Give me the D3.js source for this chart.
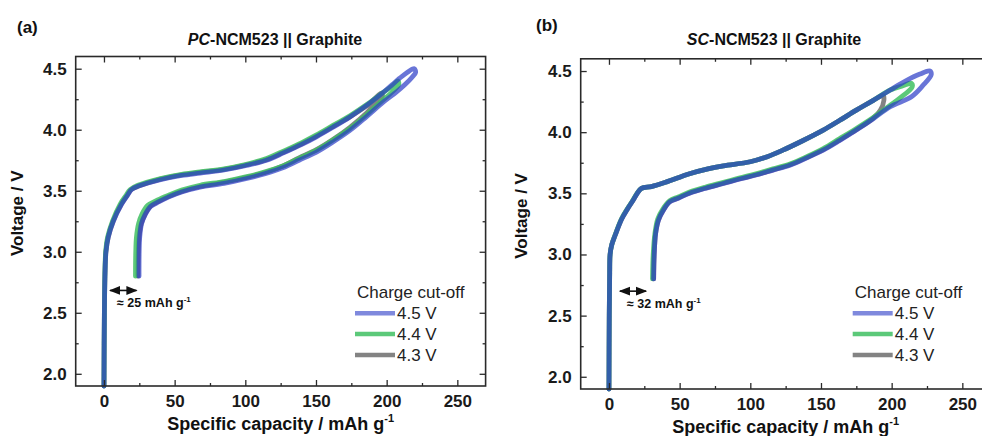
<!DOCTYPE html>
<html>
<head>
<meta charset="utf-8">
<script src="https://cdn.jsdelivr.net/npm/d3@7"></script>
<style>
  body { margin: 0; background: #fff; }
  svg { display: block; font-family: "Liberation Sans", Arial, sans-serif; }
  .axis path, .axis line { stroke: #2a2a2a; }
  .axis text { font-size: 17px; font-weight: bold; fill: #1a1a1a; font-family: "Liberation Sans", Arial, sans-serif; }
</style>
</head>
<body>
<svg id="chart" width="982" height="436"></svg>
<script>
// ---- data: [capacity mAh/g, voltage V] ----
var cutoffs = ["4.5 V", "4.4 V", "4.3 V"];
var colors = ["#2a3bc6", "#3fbf62", "#767676"];
var xTicks = [0, 50, 100, 150, 200, 250];
var yTicks = [2.0, 2.5, 3.0, 3.5, 4.0, 4.5];

// PC-NCM523
var pcCharge45 = [[0,1.9],[0.3,2.5],[0.8,2.85],[1.4,3.0],[3,3.12],[6.6,3.25],[12.5,3.39],[16.5,3.46],[19.6,3.51],[25,3.54],[40,3.59],[55,3.625],[68,3.645],[85,3.67],[100,3.705],[115,3.75],[127,3.81],[140,3.88],[150,3.94],[162,4.02],[174,4.105],[187,4.21],[197.5,4.305],[204,4.37],[209,4.42],[214,4.465],[219.5,4.5]];
var pcDischarge45 = [[219.5,4.5],[220.5,4.47],[218,4.43],[213,4.37],[207,4.31],[198,4.23],[186,4.11],[174,3.995],[162,3.9],[150,3.815],[138,3.75],[127,3.69],[114,3.64],[101,3.6],[85,3.56],[68,3.53],[55,3.49],[46,3.45],[39,3.41],[33,3.37],[29,3.3],[26.6,3.23],[25.3,3.12],[24.9,3.0],[24.8,2.8]];
var pcCharge44 = [[0,1.9],[0.3,2.5],[0.7,2.85],[1.2,3.0],[2.6,3.12],[6,3.25],[11.5,3.39],[15.5,3.46],[18.6,3.51],[24,3.545],[40,3.6],[55,3.635],[68,3.655],[85,3.68],[100,3.715],[115,3.765],[127,3.825],[140,3.895],[150,3.955],[162,4.035],[174,4.115],[187,4.215],[197.5,4.305],[204,4.36],[208,4.4]];
var pcDischarge44 = [[208,4.4],[208.5,4.37],[203,4.3],[197,4.24],[186,4.125],[174,4.01],[162,3.915],[150,3.83],[138,3.765],[127,3.705],[114,3.655],[101,3.615],[85,3.575],[68,3.545],[55,3.505],[46,3.465],[38,3.425],[31,3.38],[27,3.31],[24.5,3.23],[23,3.12],[22.5,3.0],[22.3,2.8]];
var pcCharge43 = [[0,1.9],[0.3,2.5],[0.8,2.85],[1.4,3.0],[3,3.12],[6.5,3.25],[12.3,3.39],[16.3,3.46],[19.4,3.51],[25,3.54],[40,3.595],[55,3.63],[68,3.65],[85,3.675],[100,3.71],[115,3.755],[127,3.815],[140,3.885],[150,3.945],[162,4.025],[174,4.105],[187,4.205],[196.5,4.3]];
var pcDischarge43 = [[196.5,4.3],[196.8,4.27],[191,4.2],[186,4.14],[174,4.02],[162,3.92],[150,3.835],[138,3.77],[127,3.705],[114,3.65],[101,3.61],[85,3.57],[68,3.535],[55,3.495],[46,3.455],[39,3.415],[33,3.375],[29,3.305],[26.4,3.23],[24.8,3.12],[24.3,3.0],[24,2.8]];

// SC-NCM523
var scCharge45 = [[0,1.9],[0.2,2.5],[0.5,2.85],[0.8,3.0],[2,3.08],[4.3,3.155],[9,3.29],[13,3.37],[17.2,3.445],[20,3.5],[23,3.54],[30,3.555],[40,3.59],[57,3.66],[70,3.7],[81,3.725],[100,3.758],[112,3.8],[123,3.853],[137,3.93],[151.6,4.017],[163,4.095],[175,4.18],[187,4.26],[199,4.345],[210,4.42],[220,4.475],[227,4.5]];
var scDischarge45 = [[227,4.5],[228,4.47],[222,4.38],[214,4.29],[199,4.208],[187,4.11],[175,4.017],[163,3.93],[151.6,3.853],[140,3.79],[128,3.73],[116,3.69],[104,3.65],[92,3.615],[81,3.58],[68,3.54],[57,3.5],[49,3.46],[43,3.43],[38.4,3.36],[35,3.28],[33,3.17],[32,3.0],[31.6,2.8]];
var scCharge44 = [[0,1.9],[0.2,2.5],[0.5,2.85],[0.8,3.0],[2,3.08],[4.2,3.155],[8.8,3.29],[12.8,3.37],[17,3.445],[19.8,3.5],[23,3.54],[30,3.555],[40,3.59],[57,3.66],[70,3.7],[81,3.725],[100,3.758],[112,3.8],[123,3.853],[137,3.93],[151.6,4.017],[163,4.095],[175,4.18],[187,4.26],[199,4.345],[208,4.38],[214,4.4]];
var scDischarge44 = [[214,4.4],[214.5,4.37],[206,4.28],[199,4.22],[187,4.12],[175,4.03],[163,3.945],[151.6,3.865],[140,3.8],[128,3.74],[116,3.7],[104,3.66],[92,3.625],[81,3.59],[68,3.55],[57,3.51],[49,3.47],[43,3.44],[38,3.37],[34.5,3.29],[32.5,3.17],[31.3,3.0],[30.8,2.8]];
var scCharge43 = [[0,1.9],[0.2,2.5],[0.5,2.85],[0.8,3.0],[2,3.08],[4.3,3.155],[9,3.29],[13,3.37],[17.2,3.445],[20,3.5],[23,3.54],[30,3.555],[40,3.59],[57,3.66],[70,3.7],[81,3.725],[100,3.758],[112,3.8],[123,3.853],[137,3.93],[151.6,4.017],[163,4.095],[175,4.18],[187,4.26],[194,4.3]];
var scDischarge43 = [[194,4.3],[194.5,4.26],[192,4.18],[187,4.115],[175,4.02],[163,3.935],[151.6,3.857],[140,3.793],[128,3.733],[116,3.692],[104,3.652],[92,3.617],[81,3.582],[68,3.542],[57,3.502],[49,3.462],[43,3.432],[38.4,3.362],[35,3.282],[33,3.172],[32,3.0],[31.6,2.8]];

// irreversible-capacity annotations
var pcGap = { from: 4.3, to: 23, v: 2.683, label: "25" };
var scGap = { from: 7.8, to: 26.2, v: 2.70, label: "32" };

var panels = [
  { tag: "(a)", ital: "PC", left: 75.7, right: 485.6, top: 56.5, bottom: 386,
    tagX: 17, tagY: 33, titleX: 275, ylabX: 23, xlabY: 430, legX: 355,
    series: [[pcCharge45, pcDischarge45], [pcCharge44, pcDischarge44], [pcCharge43, pcDischarge43]], gap: pcGap },
  { tag: "(b)", ital: "SC", left: 580.7, right: 990.6, top: 58.8, bottom: 389,
    tagX: 536, tagY: 31, titleX: 774, ylabX: 527, xlabY: 433, legX: 852.7,
    series: [[scCharge45, scDischarge45], [scCharge44, scDischarge44], [scCharge43, scDischarge43]], gap: scGap }
];

var svg = d3.select("#chart");
var defs = svg.append("defs");
defs.append("marker").attr("id", "ah").attr("viewBox", "0 0 10 10").attr("refX", 9).attr("refY", 5)
  .attr("markerWidth", 7).attr("markerHeight", 7).attr("orient", "auto-start-reverse")
  .append("path").attr("d", "M0,1 L10,5 L0,9 Z").attr("fill", "#111");

var opac = [0.7, 0.85, 0.9];

panels.forEach(function (p) {
  var x = d3.scaleLinear().domain([-20, 270]).range([p.left, p.right]);
  var y = d3.scaleLinear().domain([1.9, 4.6]).range([p.bottom, p.top]);
  var g = svg.append("g");

  // curves: grey first, then green, blue on top
  var line = d3.line().x(function (d) { return x(d[0]); }).y(function (d) { return y(d[1]); })
    .curve(d3.curveCatmullRom.alpha(0.5));
  [2, 1, 0].forEach(function (i) {
    g.append("path").attr("d", line(p.series[i][0].concat(p.series[i][1].slice(1))))
      .attr("fill", "none").attr("stroke", colors[i]).attr("stroke-width", 4.8)
      .attr("stroke-linejoin", "round").attr("stroke-linecap", "round")
      .attr("stroke-opacity", opac[i]);
  });

  // frame and ticks (inward)
  g.append("rect").attr("x", p.left).attr("y", p.top).attr("width", p.right - p.left)
    .attr("height", p.bottom - p.top).attr("fill", "none").attr("stroke", "#2a2a2a").attr("stroke-width", 1.6);

  var xMinor = [-25, 25, 75, 125, 175, 225, 275].filter(function (v) { return v > -20 && v < 270; });
  var yMinor = [2.25, 2.75, 3.25, 3.75, 4.25];
  function ax(gen, tf) {
    return g.append("g").attr("class", "axis").attr("transform", tf).call(gen)
      .call(function (s) { s.select(".domain").remove(); });
  }
  ax(d3.axisBottom(x).tickValues(xTicks).tickSize(0).tickPadding(9).tickFormat(d3.format("d")), "translate(0," + p.bottom + ")");
  ax(d3.axisLeft(y).tickValues(yTicks).tickSize(0).tickPadding(9).tickFormat(d3.format(".1f")), "translate(" + p.left + ",0)");
  ax(d3.axisBottom(x).tickValues(xTicks).tickSize(-6).tickFormat(""), "translate(0," + p.bottom + ")");
  ax(d3.axisBottom(x).tickValues(xMinor).tickSize(-3).tickFormat(""), "translate(0," + p.bottom + ")");
  ax(d3.axisTop(x).tickValues(xTicks).tickSize(-6).tickFormat(""), "translate(0," + p.top + ")");
  ax(d3.axisTop(x).tickValues(xMinor).tickSize(-3).tickFormat(""), "translate(0," + p.top + ")");
  ax(d3.axisLeft(y).tickValues(yTicks).tickSize(-6).tickFormat(""), "translate(" + p.left + ",0)");
  ax(d3.axisLeft(y).tickValues(yMinor).tickSize(-3).tickFormat(""), "translate(" + p.left + ",0)");
  ax(d3.axisRight(y).tickValues(yTicks).tickSize(-6).tickFormat(""), "translate(" + p.right + ",0)");
  ax(d3.axisRight(y).tickValues(yMinor).tickSize(-3).tickFormat(""), "translate(" + p.right + ",0)");
  g.selectAll(".axis line").attr("stroke-width", 1.3);

  // labels
  svg.append("text").attr("x", p.tagX).attr("y", p.tagY).attr("font-size", 17).attr("font-weight", "bold")
    .attr("fill", "#111").text(p.tag);
  var t = svg.append("text").attr("x", p.titleX).attr("y", 45).attr("text-anchor", "middle")
    .attr("font-size", 16).attr("font-weight", "bold").attr("fill", "#111");
  t.append("tspan").attr("font-style", "italic").text(p.ital);
  t.append("tspan").text("-NCM523 || Graphite");

  svg.append("text").attr("transform", "translate(" + p.ylabX + "," + ((p.top + p.bottom) / 2 - 8) + ") rotate(-90)")
    .attr("text-anchor", "middle").attr("font-size", 17).attr("font-weight", "bold").attr("fill", "#111")
    .text("Voltage / V");
  var xl = svg.append("text").attr("x", (p.left + p.right) / 2).attr("y", p.xlabY).attr("text-anchor", "middle")
    .attr("font-size", 18).attr("font-weight", "bold").attr("fill", "#111");
  xl.append("tspan").text("Specific capacity / mAh g");
  xl.append("tspan").attr("font-size", 11).attr("dy", -8).text("-1");

  // annotation arrow
  g.append("line").attr("x1", x(p.gap.from)).attr("x2", x(p.gap.to)).attr("y1", y(p.gap.v)).attr("y2", y(p.gap.v))
    .attr("stroke", "#111").attr("stroke-width", 1.6)
    .attr("marker-start", "url(#ah)").attr("marker-end", "url(#ah)");
  var at = g.append("text").attr("x", x(p.gap.from) + 7).attr("y", y(p.gap.v) + 17)
    .attr("font-size", 12.5).attr("font-weight", "bold").attr("fill", "#111");
  at.append("tspan").text("\u2248 " + p.gap.label + " mAh g");
  at.append("tspan").attr("font-size", 8).attr("dy", -5).text("-1");

  // legend
  var lg = svg.append("g").attr("transform", "translate(" + p.legX + ",0)");
  lg.append("text").attr("x", 2).attr("y", 298).attr("font-size", 17).attr("fill", "#222").text("Charge cut-off");
  cutoffs.forEach(function (c, i) {
    var yy = 313.3 + i * 20.8;
    lg.append("line").attr("x1", 0).attr("x2", 40).attr("y1", yy).attr("y2", yy)
      .attr("stroke", colors[i]).attr("stroke-width", 4.5).attr("stroke-opacity", i === 0 ? 0.6 : opac[i]);
    lg.append("text").attr("x", 42).attr("y", yy + 6).attr("font-size", 17).attr("fill", "#222").text(c);
  });
});
</script>
</body>
</html>
